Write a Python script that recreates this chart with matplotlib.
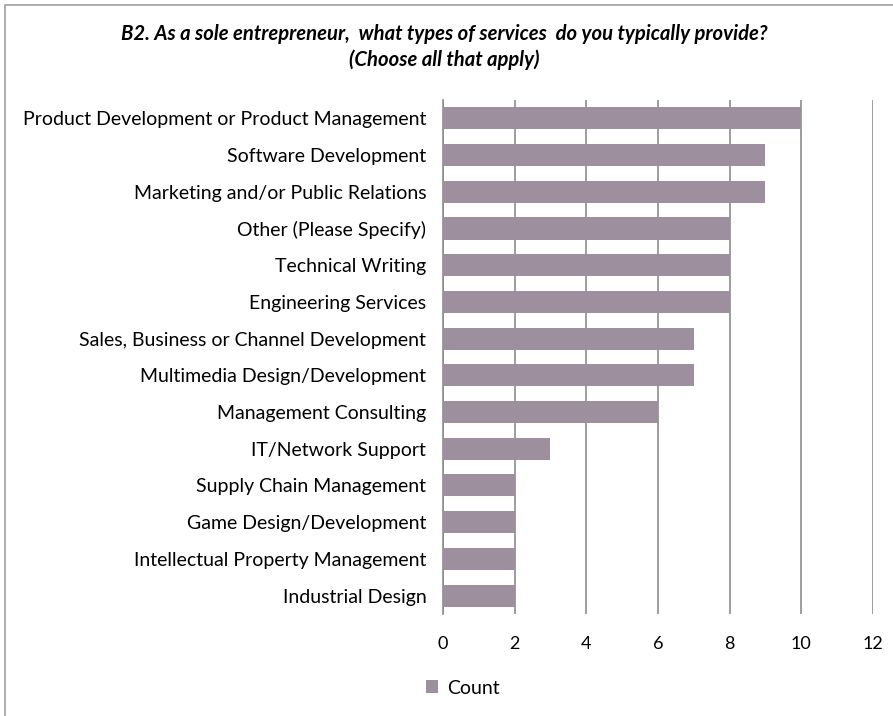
import matplotlib.pyplot as plt
from matplotlib.patches import Rectangle

### chart data, top to bottom as shown
services = ['Product Development or Product Management', 'Software Development',
            'Marketing and/or Public Relations', 'Other (Please Specify)',
            'Technical Writing', 'Engineering Services',
            'Sales, Business or Channel Development', 'Multimedia Design/Development',
            'Management Consulting', 'IT/Network Support', 'Supply Chain Management',
            'Game Design/Development', 'Intellectual Property Management',
            'Industrial Design']
counts = [10, 9, 9, 8, 8, 8, 7, 7, 6, 3, 2, 2, 2, 2]
x_ticks = [0, 2, 4, 6, 8, 10, 12]

bar_color = '#9e8f9e'
plt.rcParams['font.family'] = ['Lato', 'DejaVu Sans']

fig = plt.figure(figsize=(8.93, 7.16), dpi=100)
ax = fig.add_axes([0.496, 0.1425, 0.4816, 0.7178])

pos = list(range(len(services)))[::-1]
ax.barh(pos, counts, height=0.6, color=bar_color, zorder=3, label='Count')
ax.set_ylim(-0.5, len(services) - 0.5)
ax.set_xlim(0, 12)
ax.set_xticks(x_ticks)
ax.set_xticklabels([str(t) for t in x_ticks], fontsize=13)
ax.set_yticks(pos)
ax.set_yticklabels(services, fontsize=14)
ax.tick_params(axis='x', length=0, pad=16)
ax.tick_params(axis='y', length=0, pad=12)
ax.xaxis.grid(True, color='#8c8c8c', linewidth=1.2, zorder=0)
for s in ['top', 'right', 'bottom']:
    ax.spines[s].set_visible(False)
ax.spines['left'].set_color('#8c8c8c')
ax.spines['left'].set_linewidth(1.2)

fig.text(0.498, 0.952, 'B2. As a sole entrepreneur,  what types of services  do you typically provide?',
         ha='center', va='center', fontsize=14.6, fontweight='bold', style='italic')
fig.text(0.498, 0.916, '(Choose all that apply)', ha='center', va='center',
         fontsize=14.6, fontweight='bold', style='italic')

# legend below the axis
fig.legend(loc='center left', bbox_to_anchor=(426 / 893, 1 - 688 / 716), frameon=False,
           fontsize=14, borderpad=0, borderaxespad=0,
           handlelength=0.62, handleheight=0.62, handletextpad=0.45)

# outer chart frame
fig.patches.append(Rectangle((5 / 893, -0.1), 1.2, 1.1 - 5 / 716, transform=fig.transFigure,
                             fill=False, edgecolor='#a0a0a0', linewidth=1.2))

plt.savefig('out.png', dpi=100)
